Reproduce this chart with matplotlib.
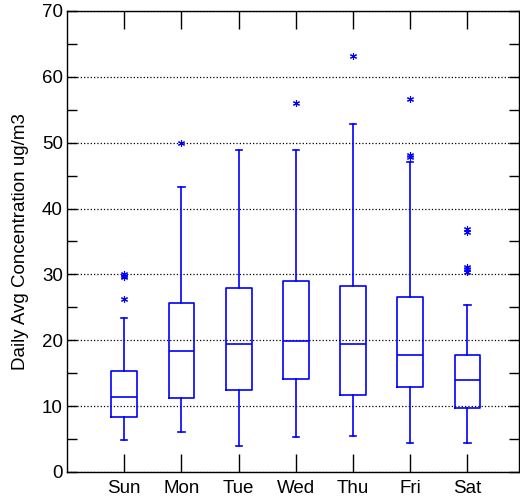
import numpy as np
import matplotlib.pyplot as plt
from matplotlib.ticker import MultipleLocator

plt.rcParams['font.family'] = ['Liberation Sans', 'DejaVu Sans']

days = ["Sun", "Mon", "Tue", "Wed", "Thu", "Fri", "Sat"]
q1 = [8.3, 11.3, 12.4, 14.1, 11.7, 12.9, 9.7]
median = [11.4, 18.4, 19.4, 19.9, 19.5, 17.7, 13.9]
q3 = [15.3, 25.7, 28.0, 29.0, 28.3, 26.6, 17.8]
whislo = [4.9, 6.1, 4.0, 5.3, 5.5, 4.4, 4.4]
whishi = [23.4, 43.3, 48.9, 48.9, 52.9, 47.1, 25.4]
outliers = [
    [26.2, 29.6, 29.8, 30.0],
    [50.0],
    [],
    [56.1],
    [63.1],
    [47.8, 48.2, 56.6],
    [30.4, 30.8, 31.1, 36.5, 36.9],
]

stats = []
for i, d in enumerate(days):
    stats.append({
        "label": d, "q1": q1[i], "med": median[i], "q3": q3[i],
        "whislo": whislo[i], "whishi": whishi[i], "fliers": outliers[i],
    })

fig = plt.figure(figsize=(5.2, 5.04), dpi=100)
ax = fig.add_axes([0.129, 0.0635, 0.869, 0.9147])

blue = "#0000ff"
ax.bxp(
    stats, positions=np.arange(1, 8), widths=0.45, showfliers=True,
    boxprops=dict(color=blue, linewidth=1.2),
    medianprops=dict(color=blue, linewidth=1.2),
    whiskerprops=dict(color=blue, linewidth=1.2, linestyle="-"),
    capprops=dict(color=blue, linewidth=1.2),
    capwidths=0.11,
    flierprops=dict(marker=(6, 2, 0), markeredgecolor=blue, markerfacecolor=blue,
                    markersize=5, markeredgewidth=0.8, linestyle="none"),
)

ax.set_xlim(0, 7.9)
ax.set_ylim(0, 70)
ax.yaxis.set_major_locator(MultipleLocator(10))
ax.yaxis.set_minor_locator(MultipleLocator(5))
ax.tick_params(axis="y", which="both", direction="in", right=True, length=7, width=1,
               labelsize=13.5, pad=3)
ax.tick_params(axis="x", which="both", direction="in", top=True, length=13, width=1,
               labelsize=13.5, pad=6)
ax.grid(axis="y", which="major", linestyle=":", color="black", linewidth=0.9)
for s in ax.spines.values():
    s.set_linewidth(1)

ax.set_ylabel("Daily Avg Concentration ug/m3", fontsize=13.5)
ax.yaxis.set_label_coords(-0.084, 0.5)

fig.savefig("out.png", dpi=100)
